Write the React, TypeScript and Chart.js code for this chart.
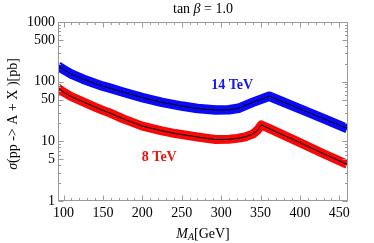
import React, { useEffect, useRef } from "react";
import { Chart, registerables } from "chart.js";

Chart.register(...registerables);

// ---- data ----
const massBlue = [93, 100, 110, 125, 140, 150, 160, 175, 200, 225, 250, 270, 293, 310, 322, 340, 361, 400, 430, 460];
const sigma14 = [182, 160, 134, 110, 93, 84, 77, 67, 54, 45, 39, 35.5, 33.4, 33.8, 35.8, 45, 57, 35, 24, 16.4];

const massRed = [93, 100, 110, 125, 140, 150, 160, 175, 200, 225, 242, 270, 293, 310, 320, 330, 340, 346, 351, 360, 400, 430, 460];
const sigma8 = [78, 67, 56, 46, 37.5, 33, 29.5, 24, 18, 15, 13.5, 11.8, 10.7, 10.8, 11.2, 11.8, 13.2, 15.3, 18.8, 16.6, 9.5, 6.2, 4.1];

const xTickLabels = [100, 150, 200, 250, 300, 350, 400, 450];
const yTickLabels = [1, 5, 10, 50, 100, 500, 1000];

const label14 = { text: "14 TeV", x: 314, y: 88 };
const label8 = { text: "8 TeV", x: 221.5, y: 5.4 };

const SERIF = '"Liberation Serif", "Times New Roman", serif';

type Run = { t: string; font: string; dy?: number };

function drawRuns(ctx: CanvasRenderingContext2D, runs: Run[], cx: number, cy: number) {
  let total = 0;
  for (const r of runs) {
    ctx.font = r.font;
    total += ctx.measureText(r.t).width;
  }
  let x = cx - total / 2;
  ctx.textAlign = "left";
  ctx.textBaseline = "middle";
  for (const r of runs) {
    ctx.font = r.font;
    ctx.fillText(r.t, x, cy + (r.dy || 0));
    x += ctx.measureText(r.t).width;
  }
}

const decor = {
  id: "decor",
  afterDraw(chart: any) {
    const { ctx, chartArea: a, scales } = chart;
    const xs = scales.x;
    const ys = scales.y;
    ctx.save();
    const L = Math.round(a.left) + 0.5;
    const R = Math.round(a.right) - 0.5;
    const T = Math.round(a.top) + 0.5;
    const B = Math.round(a.bottom) - 0.5;
    ctx.strokeStyle = "#9a9a9a";
    ctx.lineWidth = 1;
    ctx.strokeRect(L, T, R - L, B - T);

    // x ticks (inside, bottom and top)
    ctx.beginPath();
    for (let v = 100; v <= 460; v += 10) {
      const px = Math.round(xs.getPixelForValue(v)) + 0.5;
      const len = v % 50 === 0 ? 5 : 2.5;
      ctx.moveTo(px, B);
      ctx.lineTo(px, B - len);
      ctx.moveTo(px, T);
      ctx.lineTo(px, T + len);
    }
    // y ticks
    for (const dec of [1, 10, 100]) {
      for (let m = 1; m <= 10; m++) {
        const v = dec * m;
        if (v > 1000) continue;
        const py = Math.round(ys.getPixelForValue(v)) + 0.5;
        const len = yTickLabels.includes(v) ? 5 : 2.5;
        ctx.moveTo(L, py);
        ctx.lineTo(L + len, py);
        ctx.moveTo(R, py);
        ctx.lineTo(R - len, py);
      }
    }
    ctx.stroke();

    // series labels
    ctx.textAlign = "center";
    ctx.textBaseline = "middle";
    ctx.font = `bold 14px ${SERIF}`;
    ctx.fillStyle = "#1414ee";
    ctx.fillText(label14.text, xs.getPixelForValue(label14.x), ys.getPixelForValue(label14.y));
    ctx.fillStyle = "#ee1414";
    ctx.fillText(label8.text, xs.getPixelForValue(label8.x), ys.getPixelForValue(label8.y));

    // title
    ctx.fillStyle = "#000";
    drawRuns(ctx, [
      { t: "tan ", font: `14px ${SERIF}` },
      { t: "β", font: `italic 14px ${SERIF}` },
      { t: " = 1.0", font: `14px ${SERIF}` },
    ], 203, 9);

    // x title
    drawRuns(ctx, [
      { t: "M", font: `italic 14px ${SERIF}` },
      { t: "A", font: `italic 10px ${SERIF}`, dy: 3 },
      { t: "[GeV]", font: `14px ${SERIF}` },
    ], 203, 234);

    // y title
    ctx.translate(13, 114);
    ctx.rotate(-Math.PI / 2);
    drawRuns(ctx, [
      { t: "σ", font: `italic 14px ${SERIF}` },
      { t: "(pp -> A + X )[pb]", font: `14px ${SERIF}` },
    ], 0, 0);
    ctx.restore();
  },
};

export default function App() {
  const ref = useRef<HTMLCanvasElement>(null);
  useEffect(() => {
    if (!ref.current) return;
    const pts = (xs: number[], ys: number[]) => xs.map((x, i) => ({ x, y: ys[i] }));
    const chart = new Chart(ref.current, {
      type: "line",
      data: {
        datasets: [
          { data: pts(massBlue, sigma14), borderColor: "#000", borderWidth: 1, pointRadius: 0, tension: 0, order: 0 },
          { data: pts(massRed, sigma8), borderColor: "#000", borderWidth: 1, pointRadius: 0, tension: 0, order: 0 },
          { data: pts(massBlue, sigma14), borderColor: "#0a0af5", borderWidth: 9.5, pointRadius: 0, tension: 0, borderJoinStyle: "round", order: 1 },
          { data: pts(massRed, sigma8), borderColor: "#f50a0a", borderWidth: 9, pointRadius: 0, tension: 0, borderJoinStyle: "round", order: 1 },
        ] as any,
      },
      options: {
        responsive: false,
        devicePixelRatio: 1,
        animation: false,
        events: [],
        layout: { padding: { top: 22, right: 26, left: 0, bottom: 0 } },
        plugins: { legend: { display: false }, tooltip: { enabled: false }, title: { display: false } },
        scales: {
          x: {
            type: "linear",
            min: 93,
            max: 461,
            grid: { display: false, drawTicks: false },
            border: { display: false },
            afterFit: (s: any) => { s.height = 42; },
            afterBuildTicks: (s: any) => { s.ticks = xTickLabels.map((v) => ({ value: v })); },
            ticks: {
              padding: 4,
              maxRotation: 0,
              autoSkip: false,
              color: "#000",
              font: { family: SERIF, size: 14 },
              callback: (v: any) => String(v),
            },
          },
          y: {
            type: "logarithmic",
            min: 1,
            max: 1000,
            grid: { display: false, drawTicks: false },
            border: { display: false },
            afterFit: (s: any) => { s.width = 58; },
            afterBuildTicks: (s: any) => { s.ticks = yTickLabels.map((v) => ({ value: v })); },
            ticks: {
              padding: 3,
              autoSkip: false,
              color: "#000",
              font: { family: SERIF, size: 14 },
              callback: (v: any) => String(v),
            },
          },
        },
      },
      plugins: [decor],
    } as any);
    return () => chart.destroy();
  }, []);
  return (
    <div style={{ position: "fixed", left: 0, top: 0, width: 374, height: 243, background: "#fff" }}>
      <canvas ref={ref} width={374} height={243} />
    </div>
  );
}
